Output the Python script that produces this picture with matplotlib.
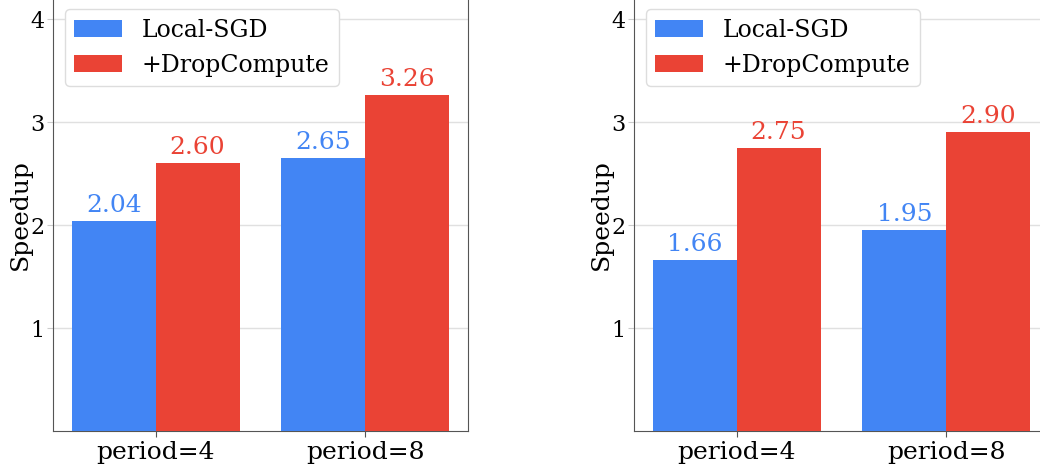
import matplotlib
matplotlib.use("Agg")
import matplotlib.pyplot as plt
import numpy as np

# data
groups = ["period=4", "period=8"]
series = ["Local-SGD", "+DropCompute"]
left_local = [2.04, 2.65]
left_drop = [2.60, 3.26]
right_local = [1.66, 1.95]
right_drop = [2.75, 2.90]

blue = "#4285F4"
red = "#EA4335"

plt.rcParams["font.family"] = "DejaVu Serif"
plt.rcParams["font.size"] = 18

fig = plt.figure(figsize=(10.4, 4.65), dpi=100)

# axes run to the top/right edge like the cropped reference
ax_h = 4.2 * 103
ax1 = fig.add_axes([53 / 1040, 34 / 465, 415 / 1040, ax_h / 465])
ax2 = fig.add_axes([634 / 1040, 34 / 465, 415 / 1040, ax_h / 465])

x = np.arange(len(groups))
w = 0.4

for ax, loc, drop in [(ax1, left_local, left_drop), (ax2, right_local, right_drop)]:
    b1 = ax.bar(x - w / 2, loc, w, color=blue, label=series[0], zorder=3)
    b2 = ax.bar(x + w / 2, drop, w, color=red, label=series[1], zorder=3)
    for bar, v in zip(b1, loc):
        ax.text(bar.get_x() + bar.get_width() / 2, v + 0.04, "%.2f" % v,
                ha="center", va="bottom", color=blue, fontsize=18)
    for bar, v in zip(b2, drop):
        ax.text(bar.get_x() + bar.get_width() / 2, v + 0.04, "%.2f" % v,
                ha="center", va="bottom", color=red, fontsize=18)
    ax.set_ylim(0, 4.2)
    ax.set_yticks([1, 2, 3, 4])
    ax.set_xticks(x)
    ax.set_xticklabels(groups)
    ax.set_ylabel("Speedup")
    ax.yaxis.set_label_coords(-0.05, 0.5)
    ax.yaxis.grid(True, color="#e0e0e0", linewidth=1, zorder=0)
    ax.set_axisbelow(True)
    for s in ax.spines.values():
        s.set_color("#555555")
    ax.spines["top"].set_visible(False)
    ax.tick_params(axis="y", colors="#cccccc", labelcolor="black", length=4,
                   pad=2, labelsize=16)
    ax.tick_params(axis="x", colors="#555555", labelcolor="black", length=4)
    ax.legend(loc="upper left", bbox_to_anchor=(12 / 415, 1 - 11 / ax_h),
              borderaxespad=0, fontsize=17, handlelength=2.0,
              handletextpad=0.85, framealpha=1.0, edgecolor="#dddddd")

fig.savefig("out.png", dpi=100)
